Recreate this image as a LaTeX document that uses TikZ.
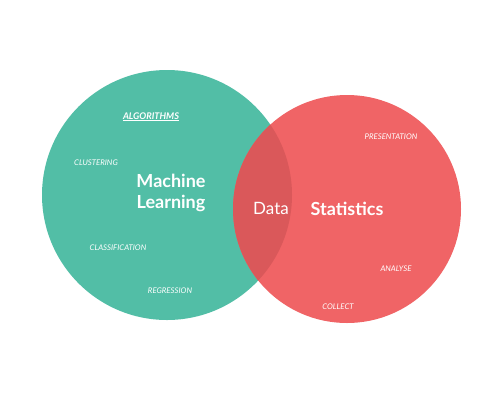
\documentclass[tikz,border=0pt]{standalone}
\usepackage{fontspec}
\setmainfont{Lato}
\definecolor{mlgreen}{RGB}{82,190,166}
\definecolor{stred}{RGB}{240,100,102}
\definecolor{ovred}{RGB}{218,88,90}
\begin{document}
\begin{tikzpicture}[x=1pt,y=-1pt,
  big/.style={text=white,font=\fontsize{18}{22}\selectfont\bfseries,align=center},
  tag/.style={text=white,font=\fontsize{7.8}{9}\selectfont\itshape,inner sep=0pt},
  mid/.style={text=white,font=\fontsize{17}{20}\selectfont}]
\useasboundingbox (0,0) rectangle (495,400);
\fill[white] (0,0) rectangle (495,400);
\fill[mlgreen] (167,195) circle[radius=125];
\fill[stred] (347,209) circle[radius=114];
\begin{scope}
  \clip (167,195) circle[radius=125];
  \fill[ovred] (347,209) circle[radius=114];
\end{scope}
\node[big] (ml) at (171,193) {Machine\\[-1pt]Learning};
\node[mid] (data) at (271,208) {Data};
\node[big] (st) at (347,209) {Statistics};
\node[tag,font=\fontsize{9.2}{10}\selectfont\bfseries\itshape] (alg) at (151,116) {ALGORITHMS};
\draw[white,line width=0.7pt] ([yshift=-1pt]alg.south west) -- ([yshift=-1pt]alg.south east);
\node[tag] (clu) at (96,163) {CLUSTERING};
\node[tag] (cla) at (118,248) {CLASSIFICATION};
\node[tag] (reg) at (170,291) {REGRESSION};
\node[tag] (pre) at (391,137) {PRESENTATION};
\node[tag] (ana) at (396,269) {ANALYSE};
\node[tag] (col) at (338,307) {COLLECT};
\end{tikzpicture}
\end{document}
